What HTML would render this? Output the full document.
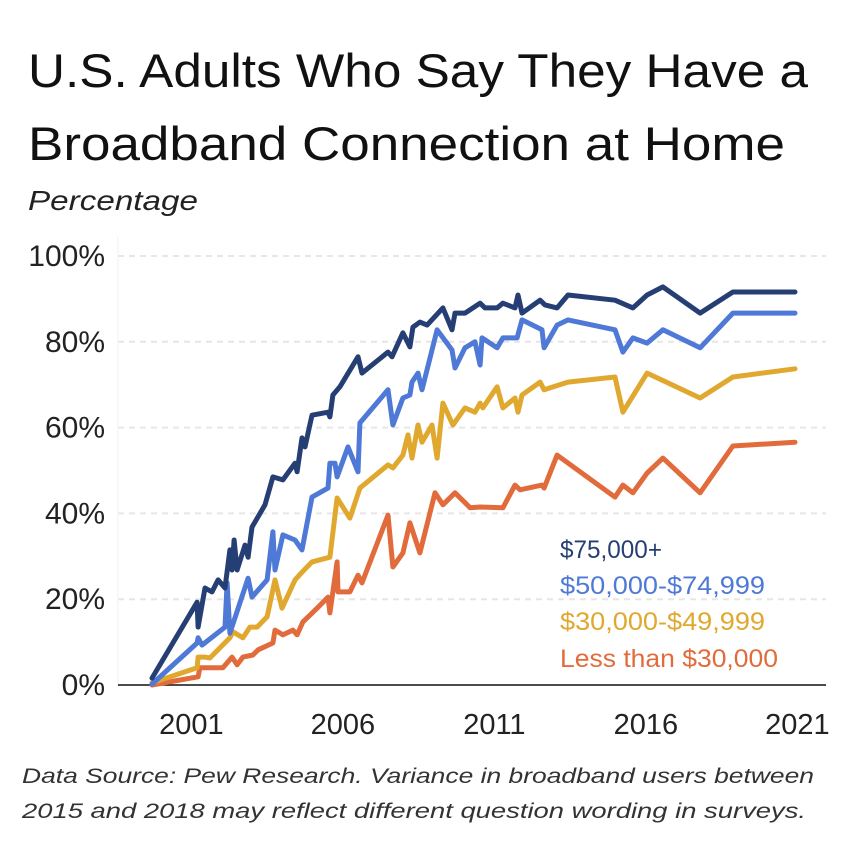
<!DOCTYPE html>
<html><head><meta charset="utf-8"><style>
html,body{margin:0;padding:0;background:#fff;}
svg{display:block;font-family:"Liberation Sans",sans-serif;}
</style></head><body>
<svg id="chart" width="846" height="846" viewBox="0 0 846 846" xmlns="http://www.w3.org/2000/svg">
<text x="28" y="87" font-size="47" fill="#111" textLength="780" lengthAdjust="spacingAndGlyphs">U.S. Adults Who Say They Have a</text>
<text x="28" y="160" font-size="47" fill="#111" textLength="757" lengthAdjust="spacingAndGlyphs">Broadband Connection at Home</text>
<text x="28" y="210" font-size="28" font-style="italic" fill="#222" textLength="170" lengthAdjust="spacingAndGlyphs">Percentage</text>
<g id="grid"></g>
<g id="yaxis"></g>
<g id="xaxis"></g>
<g id="series"></g>
<g id="legend">
<text x="560" y="558" font-size="25" fill="#253f74" textLength="102" lengthAdjust="spacingAndGlyphs">$75,000+</text>
<text x="560" y="594" font-size="25" fill="#4e79d6" textLength="205" lengthAdjust="spacingAndGlyphs">$50,000-$74,999</text>
<text x="560" y="630" font-size="25" fill="#e0a82e" textLength="205" lengthAdjust="spacingAndGlyphs">$30,000-$49,999</text>
<text x="560" y="667" font-size="25" fill="#e26b3c" textLength="218" lengthAdjust="spacingAndGlyphs">Less than $30,000</text>
</g>
<text x="22" y="783" font-size="21" font-style="italic" fill="#333" textLength="792" lengthAdjust="spacingAndGlyphs">Data Source: Pew Research. Variance in broadband users between</text>
<text x="22" y="818" font-size="21" font-style="italic" fill="#333" textLength="784" lengthAdjust="spacingAndGlyphs">2015 and 2018 may reflect different question wording in surveys.</text>
</svg>
<script>
const yTicks = [0, 20, 40, 60, 80, 100];
const xTicks = [2001, 2006, 2011, 2016, 2021];
const navyYears = [2000.00,2001.49,2001.52,2001.75,2001.98,2002.18,2002.41,2002.57,2002.64,2002.71,2002.81,2003.07,2003.17,2003.30,2003.73,2003.99,2004.32,2004.72,2004.79,2004.95,2005.05,2005.28,2005.81,2005.87,2005.97,2006.20,2006.80,2006.93,2007.79,2007.92,2008.28,2008.51,2008.61,2008.84,2009.08,2009.60,2009.90,2010.00,2010.33,2010.83,2010.99,2011.39,2011.58,2011.98,2012.08,2012.21,2012.81,2012.97,2013.37,2013.73,2015.28,2015.87,2016.34,2016.86,2018.09,2019.17,2021.22];
const navyValues = [1.6,19.3,13.5,22.6,21.7,24.5,22.6,31.5,26.8,33.8,26.8,32.6,29.8,36.8,42.0,48.5,47.8,51.7,49.7,57.6,55.5,62.9,63.6,62.5,67.6,69.5,76.5,72.7,77.6,76.5,82.1,78.8,83.4,84.6,83.9,87.9,82.8,86.7,86.7,89.0,87.9,87.9,89.0,87.9,90.9,86.7,89.7,88.6,87.9,90.9,89.7,87.9,90.9,92.8,86.7,91.6,91.6];
const blueYears = [2000.00,2001.49,2001.52,2001.65,2002.41,2002.48,2002.57,2003.17,2003.30,2003.80,2003.99,2004.06,2004.32,2004.72,2004.95,2005.28,2005.81,2005.87,2006.04,2006.11,2006.47,2006.80,2006.86,2007.79,2007.95,2008.28,2008.51,2008.58,2008.78,2008.91,2009.41,2009.90,2010.00,2010.33,2010.66,2010.83,2010.89,2011.39,2011.58,2012.05,2012.21,2012.87,2012.94,2013.37,2013.73,2015.28,2015.54,2015.87,2016.34,2016.86,2018.09,2019.17,2021.22];
const blueValues = [0.2,9.8,11.0,9.3,13.5,23.8,12.1,24.9,20.5,24.5,35.7,26.8,35.0,33.8,31.5,43.8,45.9,51.7,51.7,48.5,55.5,49.7,61.1,68.8,60.6,66.9,67.6,70.6,72.7,68.8,82.8,78.1,73.9,78.6,80.0,74.6,80.9,78.6,80.9,80.9,85.1,82.8,78.6,83.9,85.1,82.8,77.6,80.9,79.7,82.8,78.6,86.7,86.7];
const goldYears = [2000.00,2001.49,2001.52,2001.75,2001.91,2002.57,2002.67,2003.00,2003.23,2003.47,2003.80,2004.06,2004.29,2004.72,2004.95,2005.28,2005.87,2006.11,2006.53,2006.86,2007.79,2007.95,2008.28,2008.45,2008.58,2008.78,2008.91,2009.24,2009.41,2009.60,2009.93,2010.33,2010.66,2010.83,2010.92,2011.39,2011.58,2011.98,2012.08,2012.21,2012.81,2012.94,2013.73,2015.28,2015.54,2016.34,2018.09,2019.17,2021.22];
const goldValues = [0.5,4.0,6.5,6.5,6.3,11.0,12.4,11.0,13.5,13.5,15.9,24.5,17.9,24.5,26.3,28.7,29.8,43.6,38.9,45.9,51.3,50.6,53.6,58.3,52.9,60.6,56.6,60.6,52.9,65.7,60.6,64.6,63.6,65.7,64.6,69.5,64.6,66.9,63.6,67.6,70.6,68.8,70.6,71.8,63.6,72.7,66.9,71.8,73.7];
const orangeYears = [2000.00,2001.52,2001.58,2001.91,2002.34,2002.64,2002.81,2003.00,2003.33,2003.50,2003.99,2004.06,2004.32,2004.65,2004.79,2004.98,2005.45,2005.81,2005.87,2006.11,2006.14,2006.53,2006.80,2006.93,2007.79,2007.95,2008.28,2008.51,2008.84,2009.34,2009.60,2010.00,2010.50,2010.83,2011.58,2011.98,2012.15,2012.87,2012.94,2013.37,2015.28,2015.54,2015.87,2016.34,2016.86,2018.09,2019.17,2021.22];
const orangeValues = [0,1.9,4.0,4.0,4.0,6.5,4.7,6.5,7.0,8.2,9.8,12.8,11.7,12.8,11.7,14.7,17.9,20.5,16.8,28.7,21.7,21.7,25.6,23.8,39.6,27.5,30.8,37.8,30.8,44.8,42.0,44.8,41.3,41.5,41.3,46.6,45.5,46.6,45.9,53.6,43.8,46.6,44.8,49.4,52.9,44.8,55.7,56.6];

const NS = 'http://www.w3.org/2000/svg';
const x0 = 152, pxPerYear = 30.3, y0 = 685, pxPerPct = 4.29;
function xs(yr){ return x0 + (yr - 2000) * pxPerYear; }
function ys(v){ return y0 - v * pxPerPct; }
function mk(tag, attrs, parent){ const e = document.createElementNS(NS, tag); for (const k in attrs) e.setAttribute(k, attrs[k]); parent.appendChild(e); return e; }

const grid = document.getElementById('grid');
const yaxis = document.getElementById('yaxis');
yTicks.forEach(function(t){
  if (t > 0) {
    const g = mk('line', {x1:118, x2:826, y1:ys(t), y2:ys(t), stroke:'#e6e6e6', 'stroke-width':2, 'stroke-dasharray':'6,5'}, grid);
    
    
  }
  const lb = mk('text', {x:105, y:ys(t) + 10, 'text-anchor':'end', 'font-size':30, fill:'#222'}, yaxis);
  lb.textContent = t + '%';
  
  
});
const vline = mk('line', {x1:118, x2:118, y1:237, y2:685, stroke:'#f0f0f0', 'stroke-width':1}, yaxis);



const xaxis = document.getElementById('xaxis');
const axl = mk('line', {x1:118, x2:826, y1:685, y2:685, stroke:'#111', 'stroke-width':1.5}, xaxis);


xTicks.forEach(function(t){
  const lb = mk('text', {x:xs(t + 0.3), y:734, 'text-anchor':'middle', 'font-size':29, fill:'#222'}, xaxis);
  lb.textContent = String(t);
  
  
});

const seriesG = document.getElementById('series');
function drawLine(yrs, vals, color, name){
  const pts = yrs.map(function(y, i){ return xs(y).toFixed(1) + ',' + ys(vals[i]).toFixed(1); }).join(' ');
  const pl = mk('polyline', {points:pts, fill:'none', stroke:color, 'stroke-width':5, 'stroke-linejoin':'round', 'stroke-linecap':'round'}, seriesG);
  
  
}
drawLine(orangeYears, orangeValues, '#e26b3c', 'line-under-30k');
drawLine(goldYears, goldValues, '#e0a82e', 'line-30k-50k');
drawLine(blueYears, blueValues, '#4e79d6', 'line-50k-75k');
drawLine(navyYears, navyValues, '#253f74', 'line-75k-plus');
</script>
</body></html>
